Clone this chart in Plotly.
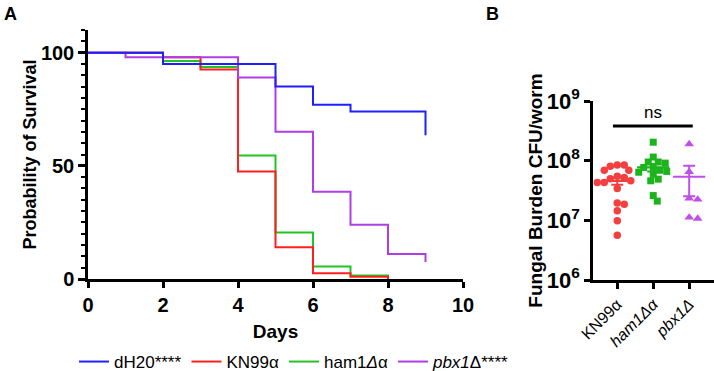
import numpy as np
import plotly.graph_objects as go

# ---------------- Panel A data: Kaplan-Meier survival ----------------
days_dh2o = [0, 2, 5, 6, 7, 9]
surv_dh2o = [100, 95, 85, 77, 74, 63.5]
days_kn99 = [0, 2, 3, 4, 5, 6, 7, 8]
surv_kn99 = [100, 98, 92.5, 47.5, 14, 2.5, 1, 0]
days_ham1 = [0, 2, 3, 4, 5, 6, 7, 8]
surv_ham1 = [100, 96.3, 93.7, 54.6, 20.5, 5.5, 1.5, 0]
days_pbx1 = [0, 1, 4, 5, 6, 7, 8, 9]
surv_pbx1 = [100, 98, 89, 65, 38.5, 24, 11, 7.5]

# ---------------- Panel B data: fungal burden CFU/worm ----------------
b_categories = ["KN99α", "<i>ham1Δα</i>", "<i>pbx1Δ</i>"]
cfu_kn99 = [8.5e7, 8.5e7, 8.1e7, 6.9e7, 6.9e7, 5.5e7, 5.2e7, 5.0e7, 4.6e7,
            4.3e7, 4.3e7, 3.4e7, 1.95e7, 1.86e7, 1.45e7, 9.8e6, 5.6e6]
cfu_ham1 = [2.04e8, 1.15e8, 9.5e7, 9.1e7, 9.5e7, 7.7e7, 7.7e7, 6.9e7, 6.6e7,
            6.4e7, 5.9e7, 4.9e7, 4.6e7, 2.6e7, 2.1e7]
cfu_pbx1 = [1.9e8, 6.5e7, 2.24e7, 2.34e7, 1.07e7, 1.12e7]
y_ticks_b = [1e6, 1e7, 1e8, 1e9]
y_ticktext_b = ["<b>10<sup>6</sup></b>", "<b>10<sup>7</sup></b>",
                "<b>10<sup>8</sup></b>", "<b>10<sup>9</sup></b>"]

FONT = "Arial, Liberation Sans, sans-serif"
W, H = 714, 371

# colours
C_BLUE, C_RED, C_GREEN, C_PURPLE = "#1F1FFF", "#FF1F1F", "#22C322", "#B03CE8"
S_RED, S_GREEN, S_PURPLE = "#F33F3F", "#1DB31D", "#BF4FEA"

fig = go.Figure()

# survival curves (drawn so blue is on top)
curves = [
    ("ham1<i>Δ</i>α", days_ham1, surv_ham1, C_GREEN, 2),
    ("KN99α", days_kn99, surv_kn99, C_RED, 1),
    ("<i>pbx1</i>Δ****", days_pbx1, surv_pbx1, C_PURPLE, 3),
    ("dH20****", days_dh2o, surv_dh2o, C_BLUE, 0),
]
for name, x, y, col, rank in curves:
    fig.add_trace(go.Scatter(x=x, y=y, mode="lines", line=dict(color=col, width=2, shape="hv"),
                             name=name, legendrank=rank + 1, xaxis="x", yaxis="y"))

# ---------------- Panel B: beeswarm positions computed from values ----------------
PX_PER_DECADE = 59.7
PX_PER_CAT = 36.0


def swarm(vals, diam):
    ys = np.log10(np.asarray(vals, float)) * PX_PER_DECADE
    order = np.argsort(-ys)
    placed = []
    offs = np.zeros(len(ys))
    for i in order:
        k = 0
        found = None
        while found is None:
            cands = [0.0] if k == 0 else [k * 0.5, -k * 0.5]
            for s in cands:
                if all((s - ox) ** 2 + (ys[i] - oy) ** 2 >= diam ** 2 for ox, oy in placed):
                    found = s
                    break
            k += 1
        offs[i] = found
        placed.append((found, ys[i]))
    return offs / PX_PER_CAT


groups = [
    (cfu_kn99, S_RED, "circle", 7.5, 7.0),
    (cfu_ham1, S_GREEN, "square", 7, 6.8),
    (cfu_pbx1, S_PURPLE, "triangle-up", 8.5, 8.5),
]
for gi, (vals, col, sym, size, diam) in enumerate(groups):
    offs = swarm(vals, diam)
    fig.add_trace(go.Scatter(x=gi + offs, y=vals, mode="markers",
                             marker=dict(color=col, symbol=sym, size=size, line=dict(width=0)),
                             showlegend=False, xaxis="x2", yaxis="y2", cliponaxis=False))
    arr = np.asarray(vals, float)
    mean = arr.mean()
    sem = arr.std(ddof=1) / np.sqrt(len(arr))
    fig.add_trace(go.Scatter(x=[gi], y=[mean], mode="markers",
                             marker=dict(symbol="line-ew", size=23, line=dict(color=col, width=2.2)),
                             error_y=dict(type="data", array=[sem], arrayminus=[sem],
                                          color=col, thickness=2, width=6),
                             showlegend=False, xaxis="x2", yaxis="y2"))

# significance bracket
fig.add_trace(go.Scatter(x=[-0.12, 2.1], y=[3.8e8, 3.8e8], mode="lines",
                         line=dict(color="black", width=3), showlegend=False,
                         xaxis="x2", yaxis="y2", hoverinfo="skip"))

axis_common = dict(showline=True, linecolor="black", linewidth=2.5, ticks="outside",
                   tickcolor="black", tickwidth=2.5, showgrid=False, zeroline=False,
                   mirror=False, automargin=False)

fig.update_layout(
    width=W, height=H,
    margin=dict(l=0, r=0, t=0, b=0, autoexpand=False),
    paper_bgcolor="white", plot_bgcolor="white",
    font=dict(family=FONT, color="black"),
    xaxis=dict(domain=[88 / W, 463 / W], range=[0, 10], dtick=2, ticklen=6,
               tickfont=dict(size=20, family=FONT, weight="bold"),
               title=dict(text="<b>Days</b>", font=dict(size=19), standoff=10),
               anchor="y", **axis_common),
    yaxis=dict(domain=[1 - 279 / H, 1 - 30 / H], range=[0, 110], tickvals=[0, 50, 100], ticklen=7,
               tickfont=dict(size=20, family=FONT, weight="bold"),
               minor=dict(dtick=5, ticklen=4, tickwidth=2, tickcolor="black", ticks="outside"),
               title=dict(text="<b>Probability of Survival</b>", font=dict(size=18), standoff=0),
               anchor="x", **axis_common),
    xaxis2=dict(domain=[593 / W, 1.0], range=[-0.675, 2.69], tickvals=[0, 1, 2],
                ticktext=b_categories, tickangle=-45, ticklen=6,
                tickfont=dict(size=16), anchor="y2", **axis_common),
    yaxis2=dict(domain=[1 - 280 / H, 1 - 101 / H], type="log", range=[6, 9],
                tickvals=y_ticks_b, ticktext=y_ticktext_b, ticklen=6,
                tickfont=dict(size=22),
                title=dict(text="<b>Fungal Burden CFU/worm</b>", font=dict(size=19), standoff=0),
                anchor="x2", **axis_common),
    legend=dict(orientation="h", x=74 / W, xanchor="left", y=1 - 362 / H, yanchor="middle",
                font=dict(size=17), bgcolor="rgba(0,0,0,0)", traceorder="normal"),
    annotations=[
        dict(text="<b>A</b>", x=2 / W, y=1 - 2 / H, xref="paper", yref="paper",
             xanchor="left", yanchor="top", showarrow=False, font=dict(size=18)),
        dict(text="<b>B</b>", x=484 / W, y=1 - 2 / H, xref="paper", yref="paper",
             xanchor="left", yanchor="top", showarrow=False, font=dict(size=18)),
        dict(text="ns", x=1.0, y=8.8, xref="x2", yref="y2", showarrow=False,
             xanchor="center", yanchor="middle", font=dict(size=17)),
    ],
)

fig.write_html("out.html")
